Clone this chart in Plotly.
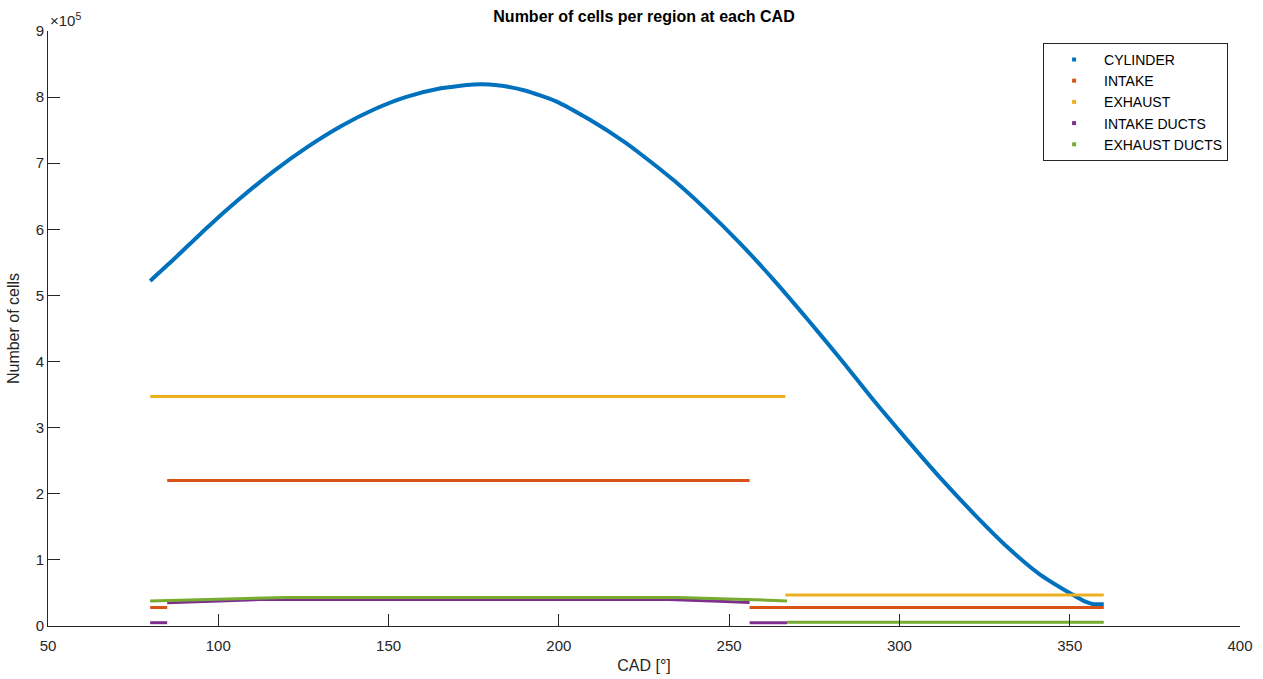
import plotly.graph_objects as go

# ---- data (CAD in degrees, cells) ----
cyl_cad = [80, 87, 97, 106, 116, 126, 136, 146, 155, 165, 175, 182, 190, 199, 209, 219,
           224, 234, 243, 253, 263, 273, 283, 292, 302, 312, 322, 332, 341, 350, 355, 357, 360]
cyl_cells = [522000, 555000, 604000, 645000, 687000, 724000, 756000, 782000, 800000, 813000,
             819000, 818000, 810000, 794000, 766000, 733000, 714000, 673000, 631000, 580000,
             524000, 464000, 402000, 344000, 283000, 224000, 169000, 118000, 79000, 50000,
             36000, 33000, 33000]

intake_cad = [80, 85, None, 85, 256, None, 256, 360]
intake_cells = [28000, 28000, None, 220000, 220000, None, 28000, 28000]

exhaust_cad = [80, 266.5, None, 266.5, 360]
exhaust_cells = [347000, 347000, None, 47000, 47000]

intake_ducts_cad = [80, 85, None, 85, 100, 112, 150, 200, 232, 245, 256, None, 256, 267]
intake_ducts_cells = [5000, 5000, None, 35000, 38000, 40000, 40000, 40000, 40000, 38000, 35500, None, 5000, 5000]

exhaust_ducts_cad = [80, 100, 120, 150, 200, 235, 250, 267, None, 267, 360]
exhaust_ducts_cells = [38000, 41000, 43000, 43000, 43000, 43000, 41000, 38000, None, 5500, 5500]

names = ["CYLINDER", "INTAKE", "EXHAUST", "INTAKE DUCTS", "EXHAUST DUCTS"]
colors = ["#0072BD", "#D95319", "#EDB120", "#7E2F8E", "#77AC30"]

x_ticks = [50, 100, 150, 200, 250, 300, 350, 400]
y_ticks = [0, 100000, 200000, 300000, 400000, 500000, 600000, 700000, 800000, 900000]
y_ticktext = ["0", "1", "2", "3", "4", "5", "6", "7", "8", "9"]

series = [
    (cyl_cad, cyl_cells, 4, "spline"),
    (intake_cad, intake_cells, 3, "linear"),
    (exhaust_cad, exhaust_cells, 3, "linear"),
    (intake_ducts_cad, intake_ducts_cells, 3, "linear"),
    (exhaust_ducts_cad, exhaust_ducts_cells, 3, "linear"),
]

fig = go.Figure()
for (xs, ys, w, shp), c in zip(series, colors):
    fig.add_trace(go.Scatter(x=xs, y=ys, mode="lines",
                             line=dict(color=c, width=w, shape=shp, smoothing=0.6),
                             connectgaps=False, showlegend=False, hoverinfo="x+y"))
# legend entries (dot markers like the original)
for n, c in zip(names, colors):
    fig.add_trace(go.Scatter(x=[None], y=[None], mode="markers", name=n,
                             marker=dict(color=c, size=4, symbol="square")))

font_family = "Liberation Sans, Arial, sans-serif"
axis_color = "#262626"

fig.update_layout(
    width=1263, height=679,
    margin=dict(l=48, r=23, t=31, b=53),
    paper_bgcolor="white", plot_bgcolor="white",
    font=dict(family=font_family, size=15, color=axis_color),
    title=dict(text="<b>Number of cells per region at each CAD</b>", x=644 / 1263,
               xanchor="center", y=1 - 16 / 679, yanchor="middle",
               font=dict(size=16, color="black")),
    showlegend=True,
    legend=dict(x=0.99, xanchor="right", y=0.98, yanchor="top",
                bgcolor="white", bordercolor="#262626", borderwidth=1,
                font=dict(size=14, color="black"), itemwidth=50,
                tracegroupgap=0, traceorder="normal"),
    xaxis=dict(range=[50, 400], tickvals=x_ticks, ticks="inside", ticklen=12,
               tickcolor=axis_color, showline=True, linecolor=axis_color, linewidth=1,
               showgrid=False, zeroline=False, mirror=False, ticklabelstandoff=6,
               automargin=False,
               title=dict(text="CAD [°]", font=dict(size=16, color=axis_color), standoff=6),
               tickfont=dict(size=15, color=axis_color)),
    yaxis=dict(range=[0, 900000], tickvals=y_ticks, ticktext=y_ticktext, ticks="inside",
               ticklen=12, tickcolor=axis_color, showline=True, linecolor=axis_color,
               linewidth=1, showgrid=False, zeroline=False, mirror=False, automargin=False,
               title=dict(text="Number of cells", font=dict(size=16, color=axis_color), standoff=12),
               tickfont=dict(size=15, color=axis_color)),
    annotations=[dict(text="×10<sup>5</sup>", xref="paper", yref="paper", x=0, y=1,
                      xanchor="left", yanchor="bottom", showarrow=False,
                      font=dict(size=15, color=axis_color))],
)

fig.write_html("out.html")
